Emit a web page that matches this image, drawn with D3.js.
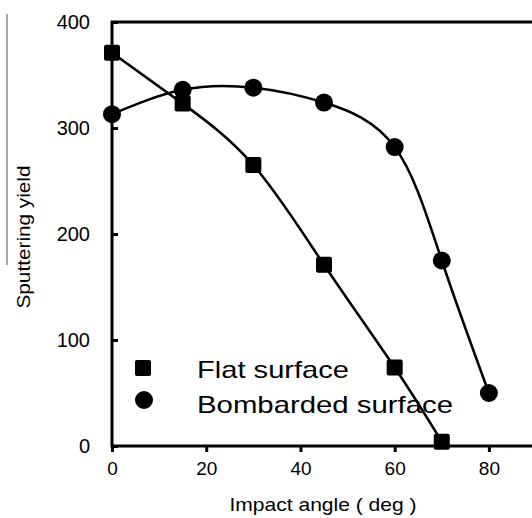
<!DOCTYPE html>
<html>
<head>
<meta charset="utf-8">
<script src="https://cdn.jsdelivr.net/npm/d3@7"></script>
<style>
    body { margin: 0; background: #fff; }
    svg { display: block; font-family: "Liberation Sans", Arial, sans-serif; }
</style>
</head>
<body>
<div id="chart"></div>
<script>
//data:
var flatAngle = [0, 15, 30, 45, 60, 70];
var flatYield = [371, 323, 265, 171, 74, 4];
var bombAngle = [0, 15, 30, 45, 60, 70, 80];
var bombYield = [313, 336, 338, 324, 282, 175, 50];
var xTicks = [0, 20, 40, 60, 80];
var yTicks = [0, 100, 200, 300, 400];
var seriesNames = ["Flat surface", "Bombarded surface"];

var width = 532;
var height = 518;

var svg = d3.select("#chart")
    .append("svg")
    .attr("width", width)
    .attr("height", height);

//scales
var xScale = d3.scaleLinear().domain([0, 90]).range([112, 536]);
var yScale = d3.scaleLinear().domain([0, 400]).range([446, 22]);

//thin grey line at the far left
svg.append("line")
    .attr("x1", 7).attr("x2", 7)
    .attr("y1", 14).attr("y2", 265)
    .attr("stroke", "#8a8a8a")
    .attr("stroke-width", 1.5);

//plot frame (right side runs off the picture)
svg.append("rect")
    .attr("x", xScale(0))
    .attr("y", yScale(400))
    .attr("width", xScale(90) - xScale(0))
    .attr("height", yScale(0) - yScale(400))
    .attr("fill", "none")
    .attr("stroke", "#000")
    .attr("stroke-width", 3);

//axes
var xAxis = d3.axisBottom(xScale).tickValues(xTicks).tickSize(6).tickPadding(10);
var yAxis = d3.axisLeft(yScale).tickValues(yTicks).tickSize(-6).tickPadding(22);

var gx = svg.append("g")
    .attr("transform", "translate(0," + yScale(0) + ")")
    .call(xAxis);
gx.select(".domain").remove();
gx.selectAll(".tick line").attr("stroke", "#000").attr("stroke-width", 3);
gx.selectAll(".tick text")
    .attr("font-size", "19px")
    .attr("fill", "#000");

var gy = svg.append("g")
    .attr("transform", "translate(" + xScale(0) + ",0)")
    .call(yAxis);
gy.select(".domain").remove();
gy.selectAll(".tick line").attr("stroke", "#000").attr("stroke-width", 3);
gy.selectAll(".tick text")
    .attr("font-size", "20px")
    .attr("fill", "#000");

//axis titles
svg.append("text")
    .attr("x", 323)
    .attr("y", 511)
    .attr("text-anchor", "middle")
    .attr("font-size", "19px")
    .attr("textLength", 187)
    .attr("lengthAdjust", "spacingAndGlyphs")
    .text("Impact angle ( deg )");

svg.append("text")
    .attr("transform", "translate(30,237) rotate(-90)")
    .attr("text-anchor", "middle")
    .attr("font-size", "19px")
    .attr("textLength", 143)
    .attr("lengthAdjust", "spacingAndGlyphs")
    .text("Sputtering yield");

//trend curves
var line = d3.line()
    .x(function (d) { return xScale(d[0]); })
    .y(function (d) { return yScale(d[1]); })
    .curve(d3.curveNatural);

var flatPts = flatAngle.map(function (a, i) { return [a, flatYield[i]]; });
var bombPts = bombAngle.map(function (a, i) { return [a, bombYield[i]]; });

svg.append("path")
    .datum(flatPts)
    .attr("d", line)
    .attr("fill", "none")
    .attr("stroke", "#000")
    .attr("stroke-width", 2.5);

svg.append("path")
    .datum(bombPts)
    .attr("d", line)
    .attr("fill", "none")
    .attr("stroke", "#000")
    .attr("stroke-width", 2.5);

//markers
svg.selectAll(".sq")
    .data(flatPts)
    .enter().append("rect")
    .attr("class", "sq")
    .attr("x", function (d) { return xScale(d[0]) - 8; })
    .attr("y", function (d) { return yScale(d[1]) - 8; })
    .attr("width", 16)
    .attr("height", 16)
    .attr("rx", 2)
    .attr("fill", "#000");

svg.selectAll(".dot")
    .data(bombPts)
    .enter().append("circle")
    .attr("class", "dot")
    .attr("cx", function (d) { return xScale(d[0]); })
    .attr("cy", function (d) { return yScale(d[1]); })
    .attr("r", 9)
    .attr("fill", "#000");

//legend
svg.append("rect")
    .attr("x", 135).attr("y", 360)
    .attr("width", 16).attr("height", 16)
    .attr("rx", 2)
    .attr("fill", "#000");
svg.append("circle")
    .attr("cx", 144).attr("cy", 400)
    .attr("r", 9)
    .attr("fill", "#000");

svg.append("text")
    .attr("x", 197).attr("y", 378)
    .attr("font-size", "24px")
    .attr("textLength", 152)
    .attr("lengthAdjust", "spacingAndGlyphs")
    .text(seriesNames[0]);
svg.append("text")
    .attr("x", 197).attr("y", 413)
    .attr("font-size", "24px")
    .attr("textLength", 256)
    .attr("lengthAdjust", "spacingAndGlyphs")
    .text(seriesNames[1]);
</script>
</body>
</html>
